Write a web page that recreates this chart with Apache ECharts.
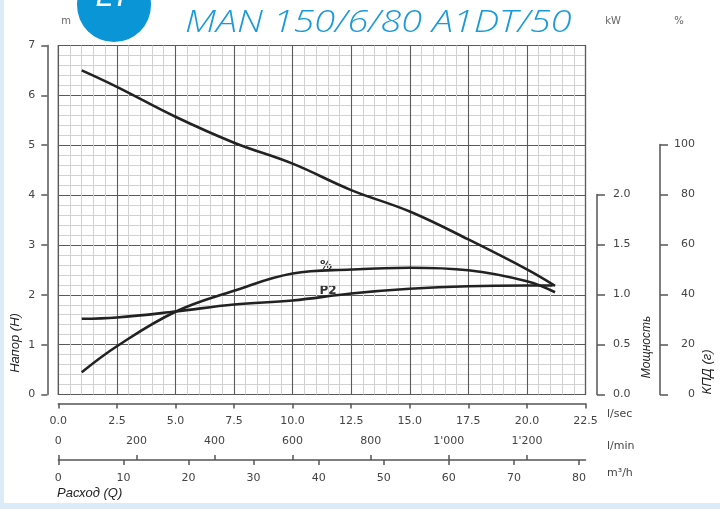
<!DOCTYPE html>
<html><head><meta charset="utf-8">
<script src="https://cdn.jsdelivr.net/npm/echarts@6/dist/echarts.min.js"></script>
<style>html,body{margin:0;padding:0;background:#fff}#c{width:720px;height:509px}</style>
</head><body><div id="c"></div>
<script>
// Data
const flowHead = [1.0, 2.5, 5.0, 7.5, 10.0, 12.5, 15.0, 17.5, 20.0, 21.2];
const head = [6.5, 6.17, 5.57, 5.05, 4.63, 4.1, 3.67, 3.11, 2.51, 2.18];
const flowEff = [1.0, 2.5, 5.0, 7.5, 10.0, 12.5, 15.0, 17.5, 20.0, 21.2];
const efficiency = [8.9, 19.3, 33.1, 41.5, 48.4, 50.0, 50.7, 49.7, 45.3, 40.9];
const flowPower = [1.0, 2.5, 5.0, 7.5, 10.0, 12.5, 15.0, 17.5, 20.0, 21.1];
const power = [0.757, 0.77, 0.83, 0.9, 0.94, 1.01, 1.057, 1.083, 1.09, 1.09];
const lminTicks = [0, 200, 400, 600, 800, 1000, 1200];
const m3hTicks = [0, 10, 20, 30, 40, 50, 60, 70, 80];
const title = 'MAN 150/6/80 A1DT/50';

const pair = (xs, ys) => xs.map((x, i) => [x, ys[i]]);
const L = 58.3, R = 720 - 585.5, B = 509 - 394.5;
const axisCol = '#555', lblCol = '#444';
const font = 'DejaVu Sans';
const hiddenX = (gi) => ({type:'value', gridIndex:gi, min:0, max:22.5, show:false});
const aLine = {show:true, onZero:false, lineStyle:{color:axisCol, width:1.5}};

const chart = echarts.init(document.getElementById('c'), null, {renderer:'canvas'});
const lineStyle = {color:'#222', width:2.6};
chart.setOption({
  backgroundColor:'#fff',
  animation:false,
  grid:[
    {left:L, right:R, top:45.5, bottom:B, outerBoundsMode:'none', show:true, borderColor:'#444', borderWidth:1.2},
    {left:L, right:R, top:194.5, bottom:B, outerBoundsMode:'none'},
    {left:L, right:R, top:144.5, bottom:B, outerBoundsMode:'none'}
  ],
  xAxis:[
    {type:'value', gridIndex:0, min:0, max:22.5, interval:2.5,
     axisLine:{show:false, onZero:false}, axisTick:{show:false}, axisLabel:{show:false},
     splitLine:{show:true, lineStyle:{color:'#5a5a5a', width:1.1}},
     minorTick:{show:false, splitNumber:5},
     minorSplitLine:{show:true, lineStyle:{color:'#d2d2d2', width:1}}},
    {type:'value', gridIndex:0, position:'bottom', offset:9, min:0, max:22.5, interval:2.5,
     axisLine:aLine,
     axisTick:{show:true, length:5, lineStyle:{color:axisCol, width:1.5}},
     axisLabel:{margin:12, color:lblCol, fontFamily:font, fontSize:11, formatter:v=>v.toFixed(1)},
     splitLine:{show:false}},
    {type:'value', gridIndex:0, position:'bottom', offset:65.5, min:0, max:1350,
     axisLine:aLine,
     axisTick:{show:true, inside:true, length:5, customValues:lminTicks, lineStyle:{color:axisCol, width:1.5}},
     axisLabel:{inside:true, margin:13, customValues:lminTicks, color:lblCol, fontFamily:font, fontSize:11,
       formatter:v=>v>=1000? Math.floor(v/1000)+"'"+String(v%1000).padStart(3,'0') : String(v)},
     splitLine:{show:false}},
    {type:'value', gridIndex:0, position:'bottom', offset:65.5, min:0, max:81,
     axisLine:{show:false, onZero:false},
     axisTick:{show:true, length:5, customValues:m3hTicks, lineStyle:{color:axisCol, width:1.5}},
     axisLabel:{margin:13, customValues:m3hTicks, color:lblCol, fontFamily:font, fontSize:11},
     splitLine:{show:false}},
    hiddenX(1), hiddenX(2)
  ],
  yAxis:[
    {type:'value', gridIndex:0, position:'left', offset:11, min:0, max:7, interval:1,
     axisLine:aLine,
     axisTick:{show:true, length:6, lineStyle:{color:axisCol, width:1.5}},
     axisLabel:{margin:12, color:lblCol, fontFamily:font, fontSize:11},
     splitLine:{show:true, lineStyle:{color:'#5a5a5a', width:1.1}},
     minorTick:{show:false, splitNumber:5},
     minorSplitLine:{show:true, lineStyle:{color:'#d2d2d2', width:1}}},
    {type:'value', gridIndex:1, position:'right', offset:11.5, min:0, max:2, interval:0.5,
     axisLine:aLine,
     axisTick:{show:true, length:8, lineStyle:{color:axisCol, width:1.5}},
     axisLabel:{margin:16, color:lblCol, fontFamily:font, fontSize:11, formatter:v=>v.toFixed(1)},
     splitLine:{show:false}},
    {type:'value', gridIndex:2, position:'right', offset:74.5, min:0, max:100, interval:20,
     axisLine:aLine,
     axisTick:{show:true, length:8, lineStyle:{color:axisCol, width:1.5}},
     axisLabel:{margin:35, align:'right', color:lblCol, fontFamily:font, fontSize:11},
     splitLine:{show:false}}
  ],
  series:[
    {name:'H', type:'line', xAxisIndex:0, yAxisIndex:0, data:pair(flowHead, head), smooth:0.4, showSymbol:false, lineStyle},
    {name:'P2', type:'line', xAxisIndex:4, yAxisIndex:1, data:pair(flowPower, power), smooth:0.4, showSymbol:false, lineStyle},
    {name:'%', type:'line', xAxisIndex:5, yAxisIndex:2, data:pair(flowEff, efficiency), smooth:0.4, showSymbol:false, lineStyle}
  ],
  graphic:[
    {type:'rect', shape:{x:0, y:0, width:4, height:509}, style:{fill:'#dcebf8'}, silent:true},
    {type:'rect', shape:{x:0, y:503, width:720, height:6}, style:{fill:'#dcebf8'}, silent:true},
    {type:'circle', shape:{cx:114, cy:5, r:37}, style:{fill:'#0a95d6'}, silent:true},
    {type:'text', x:113, y:13, style:{text:'LT', fill:'#fff', font:'italic 32px "Liberation Sans"', textAlign:'center', textVerticalAlign:'bottom'}},
    {type:'text', x:185, y:23, scaleX:1.22, style:{text:title, fill:'#1a9ad8', font:'italic 300 31px "Open Sans"', textAlign:'left', textVerticalAlign:'middle'}},
    {type:'text', x:66, y:21, style:{text:'m', fill:'#666', font:'10px "DejaVu Sans"', textAlign:'center', textVerticalAlign:'middle'}},
    {type:'text', x:613, y:21, style:{text:'kW', fill:'#666', font:'10px "DejaVu Sans"', textAlign:'center', textVerticalAlign:'middle'}},
    {type:'text', x:679, y:21, style:{text:'%', fill:'#666', font:'10px "DejaVu Sans"', textAlign:'center', textVerticalAlign:'middle'}},
    {type:'text', x:607, y:414, style:{text:'l/sec', fill:lblCol, font:'11px "DejaVu Sans"', textVerticalAlign:'middle'}},
    {type:'text', x:607, y:446, style:{text:'l/min', fill:lblCol, font:'11px "DejaVu Sans"', textVerticalAlign:'middle'}},
    {type:'text', x:607, y:473, style:{text:'m³/h', fill:lblCol, font:'11px "DejaVu Sans"', textVerticalAlign:'middle'}},
    {type:'text', x:57, y:493, style:{text:'Расход (Q)', fill:'#222', font:'italic 13px "Liberation Sans"', textVerticalAlign:'middle'}},
    {type:'text', x:15, y:343, rotation:Math.PI/2, style:{text:'Напор (H)', fill:'#222', font:'italic 13px "Liberation Sans"', textAlign:'center', textVerticalAlign:'middle'}},
    {type:'text', x:647, y:347, rotation:Math.PI/2, style:{text:'Мощность', fill:'#222', font:'italic 12px "Liberation Sans Narrow", "Liberation Sans"', textAlign:'center', textVerticalAlign:'middle'}},
    {type:'text', x:707, y:372, rotation:Math.PI/2, style:{text:'КПД (г)', fill:'#222', font:'italic 13px "Liberation Sans"', textAlign:'center', textVerticalAlign:'middle'}},
    {type:'text', x:326, y:266, style:{text:'%', fill:'#333', font:'bold 12px "DejaVu Sans"', textAlign:'center', textVerticalAlign:'middle'}},
    {type:'text', x:328, y:291, style:{text:'P2', fill:'#333', font:'bold 12px "DejaVu Sans"', textAlign:'center', textVerticalAlign:'middle'}}
  ]
});
</script></body></html>
